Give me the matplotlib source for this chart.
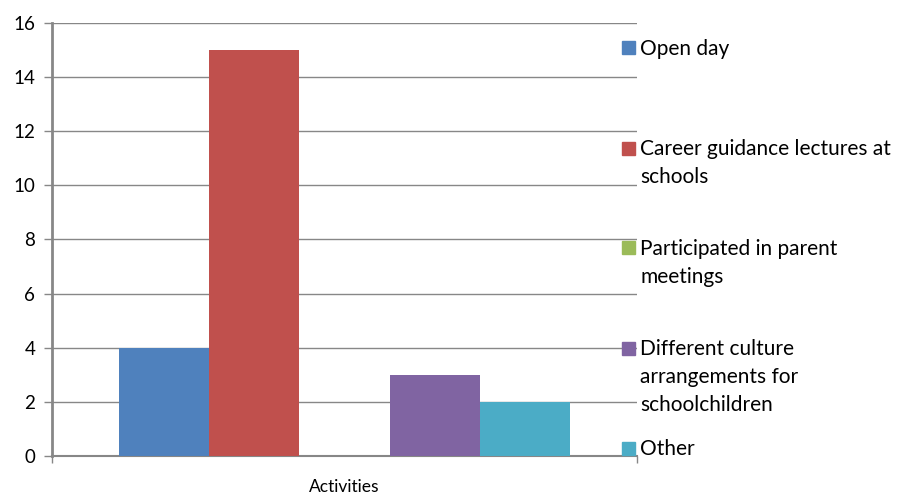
import matplotlib
matplotlib.use("Agg")
import matplotlib.pyplot as plt
from matplotlib.patches import Rectangle

plt.rcParams['font.family'] = ['Lato', 'DejaVu Sans']

category = "Activities"
series = ["Open day",
          "Career guidance lectures at\nschools",
          "Participated in parent\nmeetings",
          "Different culture\narrangements for\nschoolchildren",
          "Other"]
values = [4, 15, 0, 3, 2]
colors = ["#4F81BD", "#C0504D", "#9BBB59", "#8064A2", "#4BACC6"]
yticks = [0, 2, 4, 6, 8, 10, 12, 14, 16]

fig = plt.figure(figsize=(8.97, 4.98), dpi=100)
ax = fig.add_axes([52/897, 42/498, 585/897, 433/498])

xs = list(range(len(values)))
ax.bar(xs, values, width=1.0, color=colors, zorder=3)

ax.set_xlim(-1.244, 5.244)
ax.set_ylim(0, 16)
ax.set_yticks(yticks)
ax.yaxis.grid(True, color="#878787", linewidth=1.0, zorder=0)
ax.tick_params(axis='y', length=6, width=1, color="#878787", labelsize=13.5, pad=6)
ax.set_xticks([-1.244, 5.244])
ax.set_xticklabels(["", ""])
ax.tick_params(axis='x', length=5, width=1, color="#878787")
ax.set_xlabel(category, fontsize=12.5, labelpad=8)

for s in ["top", "right"]:
    ax.spines[s].set_visible(False)
ax.spines["left"].set_color("#878787")
ax.spines["left"].set_linewidth(2)
ax.spines["bottom"].set_color("#878787")
ax.spines["bottom"].set_linewidth(1.5)

# legend drawn by hand so square lines up with first line of text
for i, (lab, c) in enumerate(zip(series, colors)):
    yc = 48 + 100 * i
    fig.patches.append(Rectangle((622/897, 1 - (yc + 6.5)/498), 13/897, 13/498,
                                 transform=fig.transFigure, color=c))
    fig.text(640/897, 1 - (yc - 9)/498, lab, fontsize=15, va='top', ha='left',
             linespacing=1.5)

fig.savefig("out.png", dpi=100)
